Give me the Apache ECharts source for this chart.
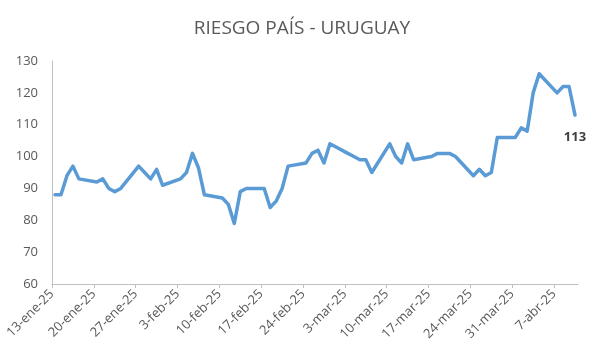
<!DOCTYPE html>
<html>
<head>
<meta charset="utf-8">
<script src="https://cdn.jsdelivr.net/npm/echarts@6/dist/echarts.min.js"></script>
<style>
html,body{margin:0;padding:0;background:#fff;}
#chart{width:604px;height:361px;}
</style>
</head>
<body>
<div id="chart"></div>
<script>
// Business days and country-risk values (bps)
var dates = [
  '2025-01-13','2025-01-14','2025-01-15','2025-01-16','2025-01-17',
  '2025-01-20','2025-01-21','2025-01-22','2025-01-23','2025-01-24',
  '2025-01-27','2025-01-28','2025-01-29','2025-01-30','2025-01-31',
  '2025-02-03','2025-02-04','2025-02-05','2025-02-06','2025-02-07',
  '2025-02-10','2025-02-11','2025-02-12','2025-02-13','2025-02-14',
  '2025-02-17','2025-02-18','2025-02-19','2025-02-20','2025-02-21',
  '2025-02-24','2025-02-25','2025-02-26','2025-02-27','2025-02-28',
  '2025-03-03','2025-03-04','2025-03-05','2025-03-06','2025-03-07',
  '2025-03-10','2025-03-11','2025-03-12','2025-03-13','2025-03-14',
  '2025-03-17','2025-03-18','2025-03-19','2025-03-20','2025-03-21',
  '2025-03-24','2025-03-25','2025-03-26','2025-03-27','2025-03-28',
  '2025-03-31','2025-04-01','2025-04-02','2025-04-03','2025-04-04',
  '2025-04-07','2025-04-08','2025-04-09','2025-04-10'
];
var values = [
  88, 88, 94, 97, 93,
  92, 93, 90, 89, 90,
  97, 95, 93, 96, 91,
  93, 95, 101, 96.5, 88,
  87, 85, 79, 89, 90,
  90, 84, 86, 90, 97,
  98, 101, 102, 98, 104,
  101, 100, 99, 99, 95,
  104, 100, 98, 104, 99,
  100, 101, 101, 101, 100,
  94, 96, 94, 95, 106,
  106, 109, 108, 120, 126,
  120, 122, 122, 113
];
var tickLabels = ['13-ene-25','20-ene-25','27-ene-25','3-feb-25','10-feb-25','17-feb-25',
  '24-feb-25','3-mar-25','10-mar-25','17-mar-25','24-mar-25','31-mar-25','7-abr-25'];
var yTicks = [60, 70, 80, 90, 100, 110, 120, 130];

var DAY = 86400000;
function toUTC(s){ var p = s.split('-'); return Date.UTC(+p[0], +p[1]-1, +p[2]); }
var start = toUTC(dates[0]);
var lastDay = (toUTC(dates[dates.length-1]) - start) / DAY;
var seriesData = dates.map(function(d, i){
  return [(toUTC(d) - start) / DAY + 0.5, values[i]];
});
var tickPos = tickLabels.map(function(_, i){ return i * 7; });

var chart = echarts.init(document.getElementById('chart'), null, {renderer:'canvas'});
chart.setOption({
  animation: false,
  title: {
    text: 'RIESGO PAÍS - URUGUAY',
    left: 'center',
    top: 14,
    textStyle: {fontFamily:'Open Sans', fontSize:19, fontWeight:'normal', color:'#595959'}
  },
  grid: {left:52, right:26, top:61, bottom:77, containLabel:false},
  xAxis: {
    type: 'value',
    min: 0,
    max: lastDay + 1,
    interval: 7,
    splitLine: {show:false},
    axisLine: {show:true, lineStyle:{color:'#BFBFBF', width:1}},
    axisTick: {show:true, length:4, lineStyle:{color:'#BFBFBF'}, customValues: tickPos},
    axisLabel: {
      rotate: 45,
      margin: 8,
      fontFamily: 'Open Sans',
      fontSize: 13,
      color: '#595959',
      customValues: tickPos,
      formatter: function(v){ var i = Math.round(v/7); return (v % 7 === 0 && tickLabels[i]) ? tickLabels[i] : ''; }
    }
  },
  yAxis: {
    type: 'value',
    min: yTicks[0],
    max: yTicks[yTicks.length-1],
    interval: 10,
    splitLine: {show:false},
    axisLine: {show:true, lineStyle:{color:'#BFBFBF', width:1}},
    axisTick: {show:false},
    axisLabel: {fontFamily:'Open Sans', fontSize:13, color:'#595959', margin:14}
  },
  series: [{
    type: 'line',
    data: seriesData,
    symbol: 'none',
    lineStyle: {color:'#5B9BD5', width:3.5, join:'round', cap:'round'},
    label: {show:false},
    markPoint: {
      symbol: 'circle',
      symbolSize: 0,
      data: [{coord: seriesData[seriesData.length-1], value: values[values.length-1]}],
      label: {
        show: true,
        position: 'bottom',
        distance: 16,
        fontFamily: 'Open Sans',
        fontSize: 13,
        fontWeight: 'bold',
        color: '#404040',
        formatter: function(p){ return p.value; }
      }
    }
  }]
});
</script>
</body>
</html>
